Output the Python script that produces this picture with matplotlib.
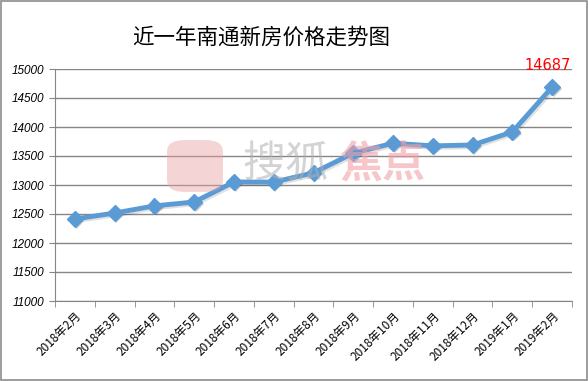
import numpy as np
import matplotlib.pyplot as plt
import matplotlib.patheffects as pe
from matplotlib.patches import Rectangle, FancyBboxPatch

plt.rcParams['font.family'] = ['Noto Sans CJK SC', 'DejaVu Sans']

months = ['2018年2月', '2018年3月', '2018年4月', '2018年5月', '2018年6月',
          '2018年7月', '2018年8月', '2018年9月', '2018年10月', '2018年11月',
          '2018年12月', '2019年1月', '2019年2月']
prices = [12414, 12517, 12640, 12707, 13052, 13050, 13210,
          13550, 13720, 13675, 13690, 13915, 14687]
yticks = [11000, 11500, 12000, 12500, 13000, 13500, 14000, 14500, 15000]

fig = plt.figure(figsize=(5.88, 3.81), dpi=100)
ax = fig.add_axes([55/588, 1-301/381, 517/588, 232/381])

x = np.arange(len(months))

# watermark
fig.patches.append(FancyBboxPatch((170/588, 1-190/381), 50/588, 48/381,
                                  boxstyle='round,pad=0.005,rounding_size=0.03',
                                  transform=fig.transFigure, fc='#e8a0a0',
                                  ec='none', alpha=0.45, zorder=0))
fig.text(285/588, 1-165/381, '搜狐', fontsize=31, color='#b0b0b0', alpha=0.55,
         ha='center', va='center', zorder=0)
fig.text(382/588, 1-165/381, '焦点', fontsize=31, color='#f0a0a8', alpha=0.6,
         ha='center', va='center', fontweight='bold', zorder=0)

shadow_line = [pe.SimpleLineShadow(offset=(1.2, -1.2), shadow_color='black', alpha=0.12),
               pe.Normal()]
shadow_mark = [pe.SimplePatchShadow(offset=(1.2, -1.2), shadow_rgbFace='black', alpha=0.2),
               pe.Normal()]
ax.plot(x, prices, color='#5b9bd5', lw=3.5, zorder=3, path_effects=shadow_line)
ax.plot(x, prices, ls='none', marker='D', ms=8, markerfacecolor='#5b9bd5',
        markeredgecolor='#5b9bd5', zorder=4, path_effects=shadow_mark)

ax.annotate(f'{prices[-1]}', (x[-1], prices[-1]), xytext=(-3, 10),
            textcoords='offset points', ha='center', va='bottom',
            color='red', fontsize=10.5, family='DejaVu Sans')

ax.set_xlim(-0.5, len(months) - 0.5)
ax.set_ylim(11000, 15000)
ax.set_yticks(yticks)
ax.set_yticklabels([str(v) for v in yticks], fontsize=8.5, style='italic',
                   family='Liberation Sans')
ax.set_xticks(x)
ax.set_xticks(np.arange(len(months) + 1) - 0.5, minor=True)
ax.set_xticklabels(months, rotation=45, ha='right', va='top',
                   rotation_mode='anchor', fontsize=8.5)
ax.tick_params(axis='x', which='major', length=0, pad=6)
ax.tick_params(axis='x', which='minor', length=4, color='#868686', direction='out')
ax.tick_params(axis='y', length=4, color='#868686', direction='out', pad=4)

ax.grid(axis='y', color='#868686', lw=1)
ax.set_axisbelow(True)
for s in ['top', 'right']:
    ax.spines[s].set_visible(False)
for s in ['left', 'bottom']:
    ax.spines[s].set_color('#868686')
ax.patch.set_alpha(0)

fig.text(261/588, 1-38/381, '近一年南通新房价格走势图', fontsize=15.5,
         ha='center', va='center')

fig.patches.append(Rectangle((0.001, 0.002), 0.997, 0.996, transform=fig.transFigure,
                             fill=False, ec='#8c8c8c', lw=1.2))

fig.savefig('out.png', dpi=100)
